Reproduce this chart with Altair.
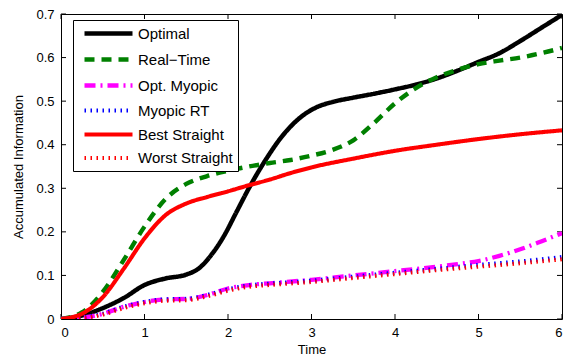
import altair as alt
import pandas as pd

series_names = ["Optimal", "Real\u2212Time", "Opt. Myopic", "Myopic RT", "Best Straight", "Worst Straight"]
series_colors = ["#000000", "#008000", "#ff00ff", "#0000ff", "#ff0000", "#ff0000"]
series_widths = [4.5, 4, 4, 1.2, 2, 1.2]
series_dashes = [[1, 0], [10, 7], [11, 5, 2, 5], [1.5, 4.5], [1, 0], [1.5, 4.5]]

opt_t = [0, 0.25, 0.5, 0.75, 1, 1.25, 1.5, 1.65, 1.8, 1.95, 2.1, 2.25, 2.45, 2.65, 2.85, 3.05, 3.25, 3.5, 3.75, 4, 4.25, 4.5, 4.75, 5, 5.25, 5.5, 5.75, 6]
opt_v = [0, 0.008, 0.025, 0.048, 0.078, 0.093, 0.102, 0.116, 0.147, 0.19, 0.245, 0.30, 0.365, 0.42, 0.46, 0.485, 0.498, 0.508, 0.517, 0.527, 0.538, 0.552, 0.57, 0.59, 0.61, 0.638, 0.668, 0.698]

rt_t = [0, 0.25, 0.5, 0.75, 1, 1.25, 1.5, 1.75, 2, 2.25, 2.5, 2.75, 3, 3.25, 3.5, 3.75, 4, 4.25, 4.5, 4.75, 5, 5.25, 5.5, 5.75, 6]
rt_v = [0, 0.015, 0.062, 0.135, 0.212, 0.275, 0.31, 0.328, 0.34, 0.35, 0.358, 0.365, 0.375, 0.388, 0.41, 0.45, 0.495, 0.53, 0.555, 0.572, 0.585, 0.593, 0.6, 0.61, 0.622]

om_t = [0, 0.25, 0.5, 0.75, 1, 1.25, 1.5, 1.75, 2, 2.25, 2.5, 3, 3.5, 4, 4.5, 4.75, 5, 5.25, 5.5, 5.75, 6]
om_v = [0, 0.003, 0.012, 0.028, 0.039, 0.045, 0.046, 0.055, 0.07, 0.078, 0.082, 0.09, 0.1, 0.11, 0.12, 0.126, 0.133, 0.145, 0.16, 0.178, 0.197]

mrt_t = [0, 0.25, 0.5, 0.75, 1, 1.25, 1.5, 1.75, 2, 2.25, 2.5, 3, 3.5, 4, 4.5, 5, 5.5, 6]
mrt_v = [0, 0.003, 0.012, 0.028, 0.039, 0.045, 0.046, 0.055, 0.068, 0.077, 0.081, 0.088, 0.097, 0.106, 0.115, 0.124, 0.132, 0.142]

bs_t = [0, 0.25, 0.5, 0.75, 1, 1.25, 1.5, 1.75, 2, 2.25, 2.5, 2.75, 3, 3.5, 4, 4.5, 5, 5.5, 6]
bs_v = [0, 0.012, 0.05, 0.115, 0.185, 0.238, 0.265, 0.28, 0.293, 0.307, 0.32, 0.335, 0.348, 0.368, 0.386, 0.4, 0.413, 0.424, 0.433]

ws_t = [0, 0.25, 0.5, 0.75, 1, 1.25, 1.5, 1.75, 2, 2.25, 2.5, 3, 3.5, 4, 4.5, 5, 5.5, 6]
ws_v = [0, 0.002, 0.01, 0.025, 0.036, 0.042, 0.043, 0.052, 0.065, 0.074, 0.078, 0.085, 0.094, 0.103, 0.112, 0.12, 0.128, 0.137]

x_ticks = [0, 1, 2, 3, 4, 5, 6]
y_ticks = [0, 0.1, 0.2, 0.3, 0.4, 0.5, 0.6, 0.7]

rows = []
for name, ts, vs in zip(series_names,
                        [opt_t, rt_t, om_t, mrt_t, bs_t, ws_t],
                        [opt_v, rt_v, om_v, mrt_v, bs_v, ws_v]):
    for t, v in zip(ts, vs):
        rows.append({"Time": t, "Value": v, "Series": name})
df = pd.DataFrame(rows)

W, H = 501, 305
FONT = "Liberation Sans"

xscale = alt.Scale(domain=[0, 6], nice=False, zero=False)
yscale = alt.Scale(domain=[0, 0.7], nice=False, zero=False)

lines = alt.Chart(df).mark_line(interpolate="monotone", clip=True).encode(
    x=alt.X("Time:Q", scale=xscale,
            axis=alt.Axis(values=x_ticks, title="Time", ticks=False, domain=False, grid=False,
                          format="d",
                          labelPadding=7, titlePadding=4, labelFontSize=13, titleFontSize=13,
                          labelFont=FONT, titleFont=FONT, titleFontWeight="normal",
                          labelColor="#000", titleColor="#000")),
    y=alt.Y("Value:Q", scale=yscale,
            axis=alt.Axis(values=y_ticks, title="Accumulated Information", ticks=False, domain=False,
                          grid=False, labelPadding=7, titlePadding=10, labelFontSize=13,
                          titleFontSize=13, labelFont=FONT, titleFont=FONT,
                          titleFontWeight="normal", labelColor="#000", titleColor="#000",
                          labelExpr="datum.value == 0 ? '0' : format(datum.value, '.1f')")),
    color=alt.Color("Series:N", scale=alt.Scale(domain=series_names, range=series_colors),
                    legend=alt.Legend(title=None, orient="none", legendX=12, legendY=6,
                                      symbolType="M-4,0H4", symbolSize=144,
                                      labelFont=FONT, labelFontSize=15, labelColor="#000",
                                      strokeColor="#000", fillColor="#fff", padding=5,
                                      rowPadding=7, labelOffset=21, symbolOffset=22)),
    strokeDash=alt.StrokeDash("Series:N", scale=alt.Scale(domain=series_names, range=series_dashes),
                              legend=None),
    strokeWidth=alt.StrokeWidth("Series:N", scale=alt.Scale(domain=series_names, range=series_widths),
                                legend=None),
    order=alt.Order("Time:Q"),
)

tick_len = 5
xt = pd.DataFrame({"t": x_ticks})
yt = pd.DataFrame({"v": y_ticks})

bottom_ticks = alt.Chart(xt).mark_rule(color="#000", strokeWidth=1).encode(
    x=alt.X("t:Q", scale=xscale), y=alt.value(H - tick_len), y2=alt.value(H))
top_ticks = alt.Chart(xt).mark_rule(color="#000", strokeWidth=1).encode(
    x=alt.X("t:Q", scale=xscale), y=alt.value(0), y2=alt.value(tick_len))
left_ticks = alt.Chart(yt).mark_rule(color="#000", strokeWidth=1).encode(
    y=alt.Y("v:Q", scale=yscale), x=alt.value(0), x2=alt.value(tick_len))
right_ticks = alt.Chart(yt).mark_rule(color="#000", strokeWidth=1).encode(
    y=alt.Y("v:Q", scale=yscale), x=alt.value(W - tick_len), x2=alt.value(W))

chart = alt.layer(bottom_ticks, top_ticks, left_ticks, right_ticks, lines).properties(
    width=W, height=H,
    autosize=alt.AutoSizeParams(type="none"),
    padding={"left": 53, "top": 6, "right": 1, "bottom": 40},
).configure_view(stroke="#000", strokeWidth=1).configure_axis(labelFont=FONT, titleFont=FONT)

chart.save("out.html", embed_options={"renderer": "svg", "actions": False})
